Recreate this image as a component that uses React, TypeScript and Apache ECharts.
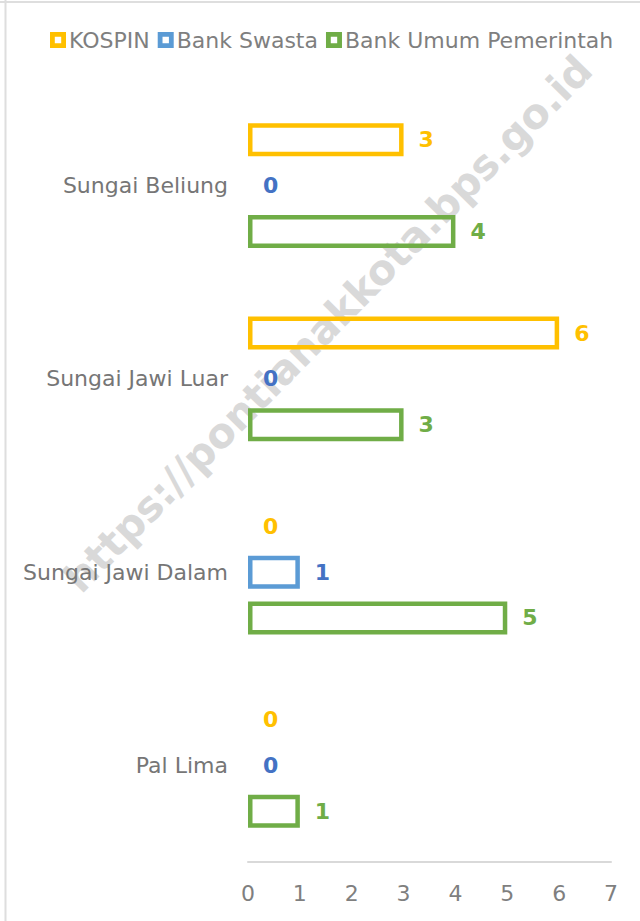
import React, { useEffect, useRef } from "react";
import * as echarts from "echarts";

const categories = ["Sungai Beliung", "Sungai Jawi Luar", "Sungai Jawi Dalam", "Pal Lima"];
const seriesNames = ["KOSPIN", "Bank Swasta", "Bank Umum Pemerintah"];
const kospin = [3, 6, 0, 0];
const bankSwasta = [0, 0, 1, 0];
const bankUmum = [4, 3, 5, 1];
const xTicks = [0, 1, 2, 3, 4, 5, 6, 7];

const borderColors = ["#FFC000", "#5B9BD5", "#70AD47"];
const labelColors = ["#FFC000", "#4472C4", "#70AD47"];
const FONT = "'DejaVu Sans', sans-serif";
const ICON = "path://M0,0H10V10H0Z M3,3V7H7V3Z";

export default function App() {
  const ref = useRef<HTMLDivElement>(null);
  useEffect(() => {
    if (!ref.current) return;
    const chart = echarts.init(ref.current, null, { renderer: "svg" });
    const values = [kospin, bankSwasta, bankUmum];
    const series = values.map((vals, i) => ({
      name: seriesNames[i],
      type: "bar",
      barWidth: 33,
      barGap: "39%",
      data: vals.map((v) => ({
        value: v,
        itemStyle: v === 0 ? { borderWidth: 0 } : {},
      })),
      itemStyle: {
        color: "rgba(255,255,255,0)",
        borderColor: borderColors[i],
        borderWidth: 4.5,
      },
      label: {
        show: true,
        position: "right",
        distance: 15,
        color: labelColors[i],
        fontFamily: FONT,
        fontWeight: "bold",
        fontSize: 22,
      },
      z: 5,
    }));
    chart.setOption({
      animation: false,
      textStyle: { fontFamily: FONT },
      legend: {
        top: 24,
        left: 45,
        itemWidth: 16,
        itemHeight: 16,
        itemGap: 8,
        icon: ICON,
        data: seriesNames.map((n, i) => ({ name: n, itemStyle: { color: borderColors[i], borderWidth: 0 } })),
        textStyle: { color: "#7f7f7f", fontSize: 22, fontFamily: FONT, padding: [0, 0, 0, -2] },
      },
      grid: { left: 248, right: 29, top: 89, bottom: 59, containLabel: false },
      xAxis: {
        type: "value",
        min: 0,
        max: 7,
        interval: 1,
        axisLine: { show: true, lineStyle: { color: "#d9d9d9", width: 2 } },
        axisTick: { show: false },
        splitLine: { show: false },
        axisLabel: {
          margin: 20,
          color: "#7f7f7f",
          fontSize: 22,
          fontFamily: FONT,
          formatter: (v: number) => (xTicks.includes(v) ? String(v) : ""),
        },
      },
      yAxis: {
        type: "category",
        inverse: true,
        data: categories,
        axisLine: { show: false },
        axisTick: { show: false },
        axisLabel: { margin: 20, color: "#767676", fontSize: 22, fontFamily: FONT },
      },
      graphic: {
        elements: [
          {
            type: "text",
            x: 328,
            y: 324,
            rotation: (45.5 * Math.PI) / 180,
            z: -10,
            silent: true,
            style: {
              text: "https://pontianakkota.bps.go.id",
              font: `bold 41px ${FONT}`,
              fill: "#d9d9d9",
              align: "center",
              verticalAlign: "middle",
            },
          },
          {
            type: "line",
            shape: { x1: 0, y1: 2, x2: 640, y2: 2 },
            style: { stroke: "#dedede", lineWidth: 2 },
          },
          {
            type: "line",
            shape: { x1: 5.5, y1: 0, x2: 5.5, y2: 921 },
            style: { stroke: "#dedede", lineWidth: 2 },
          },
        ],
      },
      series,
    });
    return () => chart.dispose();
  }, []);
  return (
    <div
      ref={ref}
      style={{ position: "absolute", left: 0, top: 0, width: 640, height: 921, background: "#fff" }}
    />
  );
}
